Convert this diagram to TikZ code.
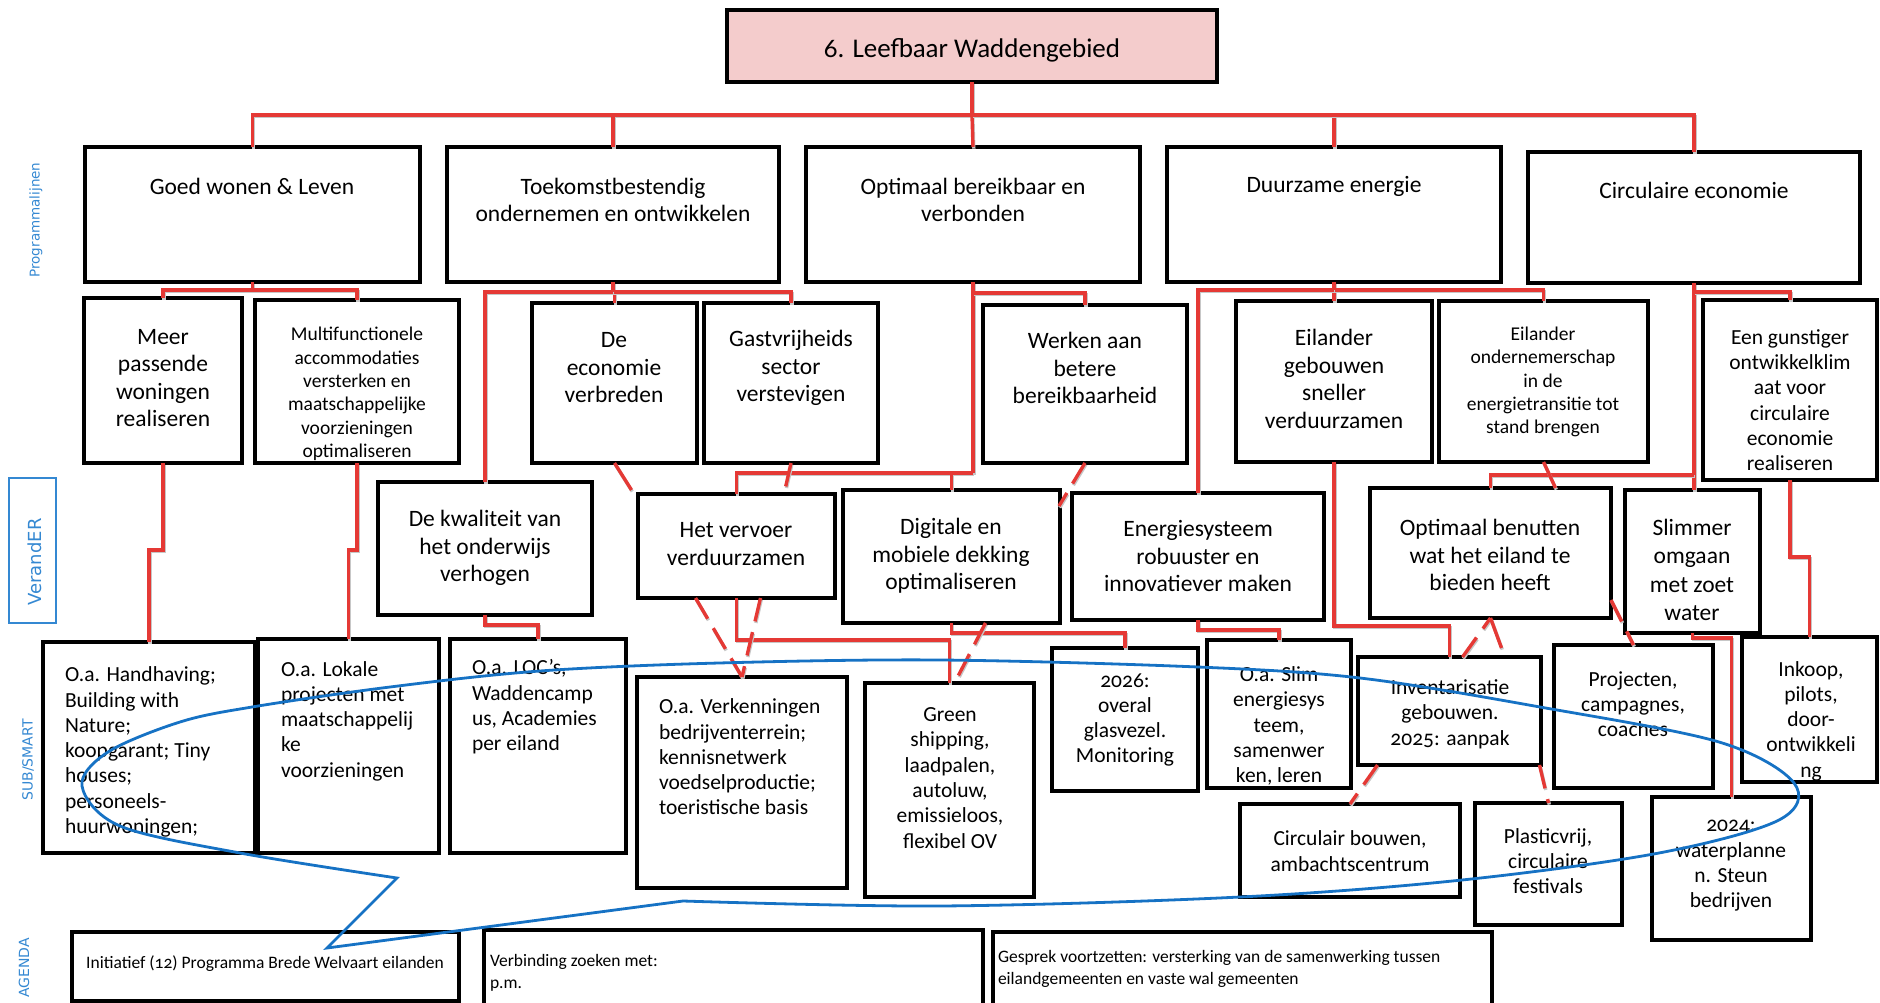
\documentclass[tikz,border=0pt]{standalone}
\usepackage{fontspec}
\setmainfont{Carlito}[Numbers=OldStyle]
\newfontfamily\lblfont{DejaVu Sans}
\usetikzlibrary{calc}
\definecolor{redc}{RGB}{229,57,53}
\definecolor{bluec}{RGB}{22,114,196}
\definecolor{lblc}{RGB}{52,136,210}
\definecolor{pinkc}{RGB}{244,204,204}
\newcommand\mkbox[6][]{\node[bx,#1,anchor=north west,minimum width={#4-#2},minimum height={#5-#3}] (#6) at (#2,#3) {};}
\tikzset{
  every node/.style={inner sep=0pt, outer sep=0pt},
  bx/.style={draw=black, line width=3.4pt},
  rbase/.style={draw=redc, line width=3.4pt},
  rl/.style={rbase,
    preaction={draw=black!22, line width=3.4pt, transform canvas={shift={(0.8pt,-1.6pt)}}}},
  rd/.style={rbase, dash pattern=on 24pt off 11pt,
    preaction={draw=black!22, line width=3.4pt, dash pattern=on 24pt off 11pt, transform canvas={shift={(0.8pt,-1.6pt)}}}},
  bluel/.style={draw=bluec, line width=2.8pt, line join=miter},
  tA/.style={align=center, font=\fontsize{23.5}{27.5}\selectfont},
  tB/.style={align=center, font=\fontsize{19.5}{23.3}\selectfont},
  tC/.style={align=center, font=\fontsize{21.5}{25.3}\selectfont},
  tL/.style={align=left, anchor=west, font=\fontsize{21.5}{25.3}\selectfont},
  tS/.style={font=\fontsize{17.5}{21.5}\selectfont},
  lbl/.style={rotate=90, text=lblc, font=\lblfont\fontsize{14}{16}\selectfont},
}
\begin{document}
\begin{tikzpicture}[x=1pt,y=-1pt]
\useasboundingbox (0,0) rectangle (1880,1003);
% ---- boxes
\mkbox[fill=pinkc]{727}{10}{1217}{82}{title}
\mkbox{85}{147}{420}{282}{goed}
\mkbox{447}{147}{779}{282}{toek}
\mkbox{806}{147}{1140}{282}{opt}
\mkbox{1167}{147}{1501}{282}{duur}
\mkbox{1528}{152}{1860}{283}{circ}
\mkbox{84}{298}{242}{463}{meer}
\mkbox{255}{300}{459}{463}{multi}
\mkbox{532}{303}{697}{463}{econ}
\mkbox{704}{303}{878}{463}{gast}
\mkbox{983}{305}{1187}{463}{werk}
\mkbox{1236}{301}{1432}{462}{geb}
\mkbox{1439}{301}{1648}{462}{ond}
\mkbox{1703}{300}{1877}{480}{gunst}
\mkbox{378}{482}{592}{615}{kwal}
\mkbox{638}{494}{835}{598}{verv}
\mkbox{843}{490}{1060}{623}{digi}
\mkbox{1072}{493}{1324}{620}{energ}
\mkbox{1370}{488}{1611}{618}{benut}
\mkbox{1625}{490}{1760}{633}{slim}
\mkbox{43}{642}{255}{853}{hand}
\mkbox{258}{639}{439}{853}{lok}
\mkbox{450}{639}{626}{853}{loc}
\mkbox{637}{677}{847}{888}{verk}
\mkbox{865}{683}{1034}{897}{green}
\mkbox{1052}{648}{1198}{791}{dA}
\mkbox{1207}{640}{1351}{788}{slimE}
\mkbox{1358}{657}{1541}{765}{inv}
\mkbox{1554}{645}{1713}{788}{proj}
\mkbox{1742}{637}{1877}{782}{ink}
\mkbox{1240}{804}{1460}{897}{cb}
\mkbox{1475}{803}{1622}{925}{plast}
\mkbox{1652}{797}{1811}{940}{dB}
\mkbox{72}{932}{459}{1001}{init}
\mkbox{484}{930}{983}{1006}{verb}
\mkbox{993}{932}{1492}{1006}{gespr}
\mkbox[draw=lblc,line width=2.2pt]{9}{478}{56}{623}{verand}
% ---- texts
\node[font=\fontsize{27}{31}\selectfont] (titleT) at (972,50) {6. Leefbaar Waddengebied};
\node[tA] (goedT) at (252,186) {Goed wonen \& Leven};
\node[tA] (toekT) at (613,200) {Toekomstbestendig\\ondernemen en ontwikkelen};
\node[tA] (optT) at (973,200) {Optimaal bereikbaar en\\verbonden};
\node[tA] (duurT) at (1334,186) {Duurzame energie};
\node[tA] (circT) at (1694,190) {Circulaire economie};
\node[tA] (meerT) at (163,378) {Meer\\passende\\woningen\\realiseren};
\node[tB] (multiT) at (357,394) {Multifunctionele\\accommodaties\\versterken en\\maatschappelijke\\voorzieningen\\optimaliseren};
\node[tA] (econT) at (614,368) {De\\economie\\verbreden};
\node[tA] (gastT) at (791,368) {Gastvrijheids\\sector\\verstevigen};
\node[tA] (werkT) at (1085,368) {Werken aan\\betere\\bereikbaarheid};
\node[tA] (gebT) at (1334,379) {Eilander\\gebouwen\\sneller\\verduurzamen};
\node[tB] (ondT) at (1543,382) {Eilander\\ondernemerschap\\in de\\energietransitie tot\\stand brengen};
\node[tC] (gunstT) at (1790,400) {Een gunstiger\\ontwikkelklim\\aat voor\\circulaire\\economie\\realiseren};
\node[tA] (kwalT) at (485,548) {De kwaliteit van\\het onderwijs\\verhogen};
\node[tA] (vervT) at (736,544) {Het vervoer\\verduurzamen};
\node[tA] (digiT) at (951,556) {Digitale en\\mobiele dekking\\optimaliseren};
\node[tA] (energT) at (1198,556) {Energiesysteem\\robuuster en\\innovatiever maken};
\node[tA] (benutT) at (1490,555) {Optimaal benutten\\wat het eiland te\\bieden heeft};
\node[tA, font=\fontsize{23.5}{28.5}\selectfont] (slimT) at (1692,570) {Slimmer\\omgaan\\met zoet\\water};
\node[tL] (handT) at (65,752) {O.a. Handhaving;\\Building with\\Nature;\\koopgarant; Tiny\\houses;\\personeels-\\huurwoningen;};
\node[tL] (lokT) at (281,721) {O.a. Lokale\\projecten met\\maatschappelij\\ke\\voorzieningen};
\node[tL] (locT) at (472,707) {O.a. LOC's,\\Waddencamp\\us, Academies\\per eiland};
\node[tL] (verkT) at (659,757) {O.a. Verkenningen\\bedrijventerrein;\\kennisnetwerk\\voedselproductie;\\toeristische basis};
\node[tC] (greenT) at (950,778) {Green\\shipping,\\laadpalen,\\autoluw,\\emissieloos,\\flexibel OV};
\node[tC] (dAT) at (1125,720) {2026:\\overal\\glasvezel.\\Monitoring};
\node[tC] (slimET) at (1279,726) {O.a. Slim\\energiesys\\teem,\\samenwer\\ken, leren};
\node[tC] (invT) at (1450,714) {Inventarisatie\\gebouwen.\\2025: aanpak};
\node[tC] (projT) at (1633,704) {Projecten,\\campagnes,\\coaches};
\node[tC] (inkT) at (1811,721) {Inkoop,\\pilots,\\door-\\ontwikkeli\\ng};
\node[tC] (cbT) at (1350,851) {Circulair bouwen,\\ambachtscentrum};
\node[tC] (plastT) at (1548,861) {Plasticvrij,\\circulaire\\festivals};
\node[tC] (dBT) at (1731,866) {2024:\\waterplanne\\n. Steun\\bedrijven};
\node[tS] (initT) at (265,964) {Initiatief (12) Programma Brede Welvaart eilanden};
\node[tS, align=left, anchor=west] (verbT) at (490,973) {Verbinding zoeken met:\\p.m.};
\node[tS, align=left, anchor=west] (gesprT) at (998,969) {Gesprek voortzetten: versterking van de samenwerking tussen\\eilandgemeenten en vaste wal gemeenten};
\node[lbl, font=\lblfont\fontsize{13.5}{16}\selectfont] (progT) at (36,220) {Programmalijnen};
\node[lbl, font=\lblfont\fontsize{18}{20}\selectfont] (verT) at (35,562) {VerandER};
\node[lbl] (subT) at (28,760) {SUB/SMART};
\node[lbl] (agT) at (24,968) {AGENDA};
% ---- red connectors, level 0 -> 1
\draw[rl] (title.south) -- ++(0,33) coordinate (b0);
\draw[rl] (b0) -| (goed.north);
\draw[rl] (b0) -| (toek.north);
\draw[rl] (b0) -- (opt.north);
\draw[rl] (b0) -| (duur.north);
\draw[rl] (b0) -| (circ.north);
% level 1 -> 2/3
\draw[rl] (goed.south) -- ++(0,8) coordinate (bg);
\draw[rl] (bg) -| (meer.north);
\draw[rl] (bg) -| (multi.north);
\draw[rl] (toek.south) -- ++(0,10) coordinate (bt);
\draw[rl] (bt) -| (econ.north);
\draw[rl] (bt) -| (gast.north);
\draw[rl] (bt) -| (kwal.north);
\draw[rl] (opt.south) -- ++(0,11) coordinate (bo1) -- ++(0,180) coordinate (bo2);
\draw[rl] (bo1) -| (werk.north);
\draw[rl] (bo2) -| (verv.north);
\draw[rl] (bo2) -| (digi.north);
\draw[rl] (duur.south) -- ++(0,8) coordinate (bd);
\draw[rl] (bd) -| (geb.north);
\draw[rl] (bd) -| (ond.north);
\draw[rl] (bd) -| (energ.north);
\draw[rl] (circ.south) -- ++(0,9) coordinate (bc1) -- ++(0,183) coordinate (bc2) -- (bc2 |- slim.north);
\draw[rl] (bc1) -| (gunst.north);
\draw[rl] (bc2) -| (benut.north);
% diagonals between level 2 and 3
\draw[rl] (econ.south) -- ++(17,27) coordinate (e1);
\draw[rd] (gast.south) -- ++(-7,31) coordinate (g1);
\draw[rd] (werk.south) -- ++(-26,43) coordinate (w1);
\draw[rl] (ond.south) -- ++(12,26) coordinate (o1);
\draw[rd] ([yshift=-47pt]benut.east) -- (proj.north);
% level 2/3 -> 4
\draw[rl] (meer.south) -- ++(0,87) -| (hand.north);
\draw[rl] (multi.south) -- ++(0,87) -| (lok.north);
\draw[rl] (kwal.south) -- ++(0,10) -| (loc.north);
\draw[rl] (verv.south) -- ++(0,42) -| (green.north);
\draw[rl] (digi.south) -- ++(0,10) -| (dA.north);
\draw[rl] (energ.south) -- ++(0,10) -| (slimE.north);
\draw[rl] (geb.south) -- ++(0,164) -| (inv.north);
\draw[rl] (gunst.south) -- ++(0,77) -| (ink.north);
\draw[rl] (slim.south) -- ++(0,5) -| (dB.north);
\draw[rd] ([xshift=-41pt]verv.south) -- (verk.north);
\draw[rd] ([xshift=24pt]verv.south) -- (verk.north);
\draw[rd] ([xshift=34pt]digi.south) -- ([xshift=5pt]green.north);
\draw[rd] ([xshift=13pt]inv.north) -- (benut.south);
\draw[rl] (benut.south) -- ++(11,30) coordinate (bn1);
\draw[rd] ([xshift=-72pt]inv.south) -- (cb.north);
\draw[rd] ([xshift=90pt]inv.south) -- (plast.north);
% ---- blue lasso
\draw[bluel] plot[smooth, tension=0.55] coordinates {(397,878) (240,853) (120,826) (82,786) (108,752) (180,722) (252,707) (390,687) (540,671) (719,663) (940,660) (1198,667) (1360,678) (1540,707) (1719,742) (1794,783) (1779,820) (1659,853) (1462,880) (1240,897) (940,906) (683,901)} -- (327,948) -- cycle;
\end{tikzpicture}
\end{document}
